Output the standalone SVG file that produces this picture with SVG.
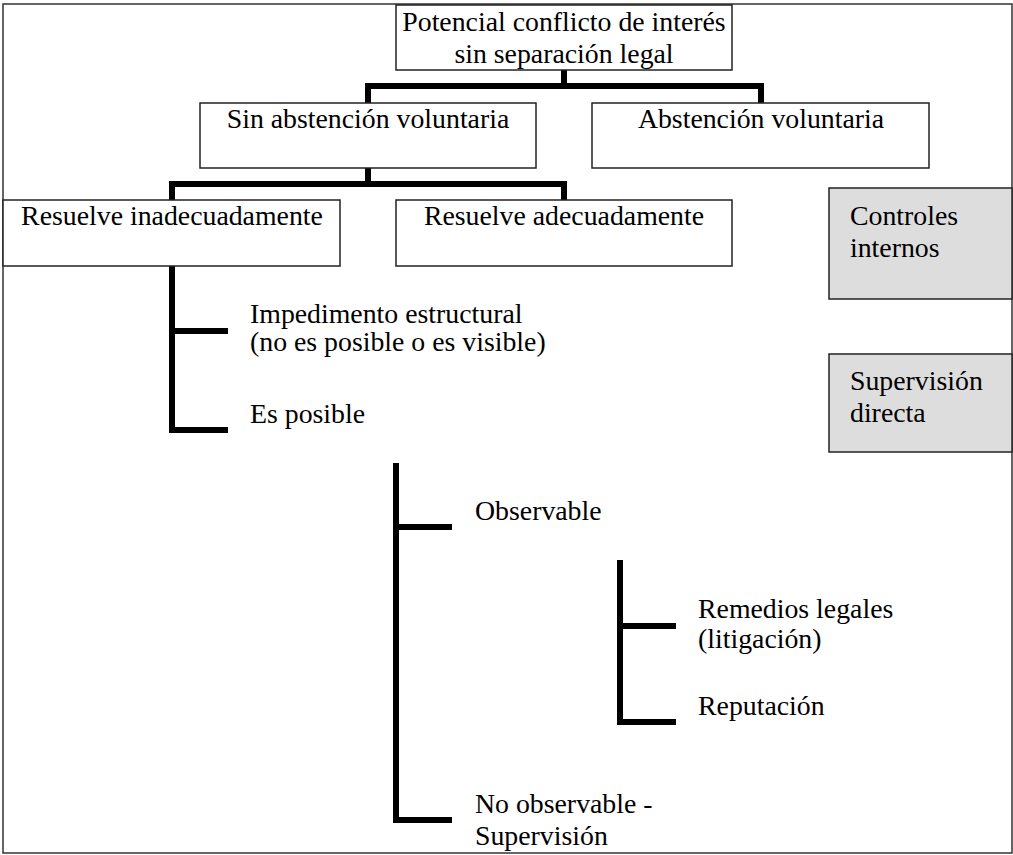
<svg xmlns="http://www.w3.org/2000/svg" width="1013" height="855" viewBox="0 0 1013 855">
  <style>
    .box { fill: #ffffff; stroke: #222222; stroke-width: 1.5; }
    .gray { fill: #dddddd; stroke: #222222; stroke-width: 1.5; }
    .frame { fill: #ffffff; stroke: #333333; stroke-width: 1.5; }
    .t { font-family: "Liberation Serif", "Times New Roman", "DejaVu Serif", serif; font-size: 27.8px; fill: #000000; }
    .c { text-anchor: middle; }
    .conn { fill: none; stroke: #000000; stroke-width: 6; stroke-linecap: butt; stroke-linejoin: miter; }
  </style>
  <rect class="frame" x="3" y="4" width="1009" height="849"/>

  <g id="connectors">
    <path class="conn" d="M564 70 V86"/>
    <path class="conn" d="M368 103 V86 H761 V103"/>
    <path class="conn" d="M368 168 V184"/>
    <path class="conn" d="M172 200 V184 H564 V200"/>
    <path class="conn" d="M172 266 V430 H228"/>
    <path class="conn" d="M172 331 H228"/>
    <path class="conn" d="M396 463 V820 H452"/>
    <path class="conn" d="M396 527 H452"/>
    <path class="conn" d="M620 560 V722 H676"/>
    <path class="conn" d="M620 626 H676"/>
  </g>

  <g id="n-potencial">
    <rect class="box" x="396" y="5" width="336" height="65"/>
    <text class="t c" x="564" y="31">Potencial conflicto de interés</text>
    <text class="t c" x="564" y="63">sin separación legal</text>
  </g>
  <g id="n-sin-abstencion">
    <rect class="box" x="200" y="103" width="336" height="65"/>
    <text class="t c" x="368" y="128">Sin abstención voluntaria</text>
  </g>
  <g id="n-abstencion">
    <rect class="box" x="592" y="103" width="337" height="65"/>
    <text class="t c" x="761" y="128">Abstención voluntaria</text>
  </g>
  <g id="n-inadecuadamente">
    <rect class="box" x="3" y="200" width="337" height="66"/>
    <text class="t c" x="172" y="225">Resuelve inadecuadamente</text>
  </g>
  <g id="n-adecuadamente">
    <rect class="box" x="396" y="200" width="336" height="66"/>
    <text class="t c" x="564" y="225">Resuelve adecuadamente</text>
  </g>
  <g id="n-controles">
    <rect class="gray" x="829" y="188" width="183" height="111"/>
    <text class="t" x="850" y="225">Controles</text>
    <text class="t" x="850" y="257">internos</text>
  </g>
  <g id="n-supervision-directa">
    <rect class="gray" x="829" y="354" width="183" height="98"/>
    <text class="t" x="850" y="390">Supervisión</text>
    <text class="t" x="850" y="422">directa</text>
  </g>
  <g id="n-impedimento">
    <text class="t" x="250" y="323">Impedimento estructural</text>
    <text class="t" x="250" y="351">(no es posible o es visible)</text>
  </g>
  <g id="n-es-posible">
    <text class="t" x="250" y="423">Es posible</text>
  </g>
  <g id="n-observable">
    <text class="t" x="475" y="520">Observable</text>
  </g>
  <g id="n-remedios">
    <text class="t" x="698" y="618">Remedios legales</text>
    <text class="t" x="698" y="648">(litigación)</text>
  </g>
  <g id="n-reputacion">
    <text class="t" x="698" y="715">Reputación</text>
  </g>
  <g id="n-no-observable">
    <text class="t" x="475" y="813">No observable -</text>
    <text class="t" x="475" y="845">Supervisión</text>
  </g>
</svg>
